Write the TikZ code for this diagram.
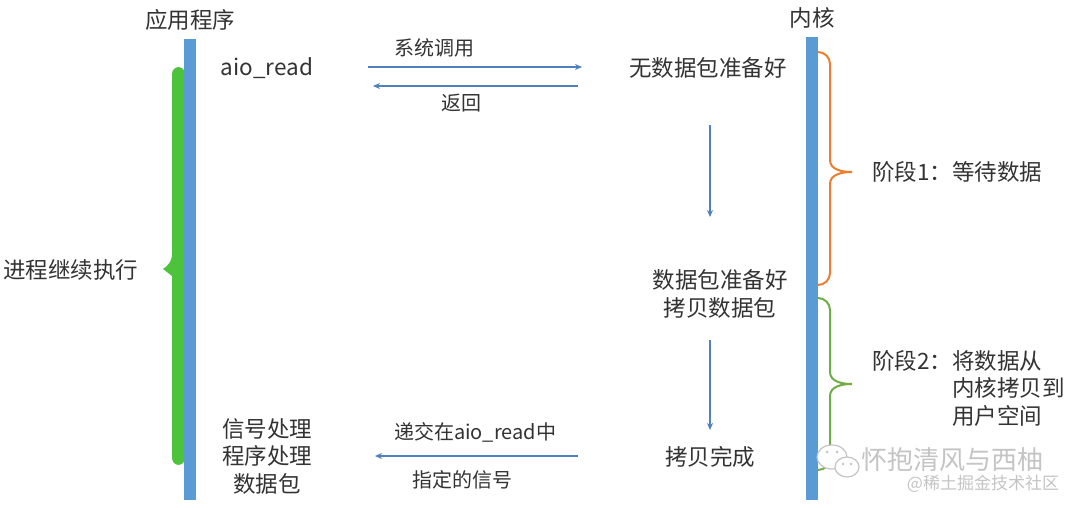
\documentclass[tikz,border=0pt]{standalone}
\usepackage{fontspec}
\setmainfont{Noto Sans CJK SC}
\usetikzlibrary{arrows.meta}
\definecolor{barblue}{HTML}{5B9BD5}
\definecolor{lineblue}{HTML}{4F81BD}
\definecolor{procgreen}{HTML}{4CC33A}
\definecolor{phasegreen}{HTML}{70AD47}
\definecolor{phaseorange}{HTML}{ED7D31}
\definecolor{txt}{HTML}{333333}
\definecolor{wmgray}{HTML}{C4C4C4}
\tikzset{
  txtnode/.style={text=txt, font=\fontsize{22.5}{27.5}\selectfont, inner sep=0pt, align=center},
  lbl/.style={text=txt, font=\fontsize{20}{24}\selectfont, inner sep=0pt},
  flow/.style={-{Stealth[length=7pt, width=6pt]}, draw=lineblue, line width=1.3pt},
  bar/.style={fill=barblue},
  phase/.style={line width=2pt, line cap=round},
  wmark/.style={text=wmgray, inner sep=0pt},
}

\begin{document}
\begin{tikzpicture}[x=1pt, y=-1pt]
    \useasboundingbox[fill=white] (0,0) rectangle (1080,508);
    % left brace of the process
    \fill[procgreen] (185,67) [rounded corners=7pt] -- (172,67) -- (172,262) [sharp corners] -- (163,269)
        -- (172,276) [rounded corners=7pt] -- (172,465) -- (185,465) -- cycle;
    % life lines
    \fill[bar] (184,39) rectangle (196,500);
    \fill[bar] (806,37) rectangle (818,500);
    \node[txtnode] (app) at (190,20) {应用程序};
    \node[txtnode] (kernel) at (812,18) {内核};
    \node[txtnode] (cont) at (71,270) {进程继续执行};
    \node[txtnode] (aioread) at (267,68) {aio\_read};
    \node[txtnode] (nodata) at (708,68) {无数据包准备好};
    \node[txtnode] (ready) at (720,294) {数据包准备好\\拷贝数据包};
    \node[txtnode] (done) at (710,457) {拷贝完成};
    \node[txtnode] (handler) at (267,456) {信号处理\\程序处理\\数据包};
    \node[txtnode, anchor=west, align=left] (phase1) at (872,172) {阶段1：等待数据};
    \node[txtnode, anchor=west, align=left] (phase2) at (872,388) {阶段2：将数据从\\\hphantom{阶段2：}内核拷贝到\\\hphantom{阶段2：}用户空间};
    \coordinate (callL) at (368,67);
    \coordinate (callR) at (582,67);
    \coordinate (retR) at (578,86);
    \coordinate (retL) at (373,86);
    \coordinate (sigR) at (578,456);
    \coordinate (sigL) at (375,456);
    \coordinate (wait1) at (710,125);
    \coordinate (wait2) at (710,217);
    \coordinate (copy1) at (710,340);
    \coordinate (copy2) at (710,430);
    \draw[flow] (callL) -- (callR) node[lbl, pos=0.31, yshift=19pt]{系统调用};
    \draw[flow] (retR) -- (retL) node[lbl, pos=0.566, yshift=-17pt]{返回};
    \draw[flow] (sigR) -- (sigL) node[lbl, pos=0.507, yshift=24pt]{递交在aio\_read中}
        node[lbl, pos=0.571, yshift=-24pt]{指定的信号};
    \draw[flow] (wait1) -- (wait2);
    \draw[flow] (copy1) -- (copy2);
    % braces of the two phases
    \draw[phase, phaseorange] (818,52) to[out=0, in=90] (830,64) -- (830,160) to[out=-90, in=180] (852,172)
        to[out=180, in=90] (830,184) -- (830,273) to[out=-90, in=0] (818,285);
    \draw[phase, phasegreen] (818,298) to[out=0, in=90] (830,310) -- (830,372) to[out=-90, in=180] (852,384)
        to[out=180, in=90] (830,396) -- (830,458) to[out=-90, in=0] (818,470);
    % watermark
    \draw[wmgray, fill=white, line width=1.2pt] (832,457) ellipse (15 and 12);
    \draw[wmgray, fill=white, line width=1.2pt] (847,467) ellipse (12 and 10);
    \fill[wmgray] (827,452) circle (1.5) (837,452) circle (1.5) (843,464) circle (1.3) (851,464) circle (1.3);
    \node[wmark, font=\fontsize{26}{30}\selectfont] (wmname) at (952,460) {怀抱清风与西柚};
    \node[wmark, font=\fontsize{17}{20}\selectfont] (wmsite) at (983,484) {@稀土掘金技术社区};
\end{tikzpicture}
\end{document}
